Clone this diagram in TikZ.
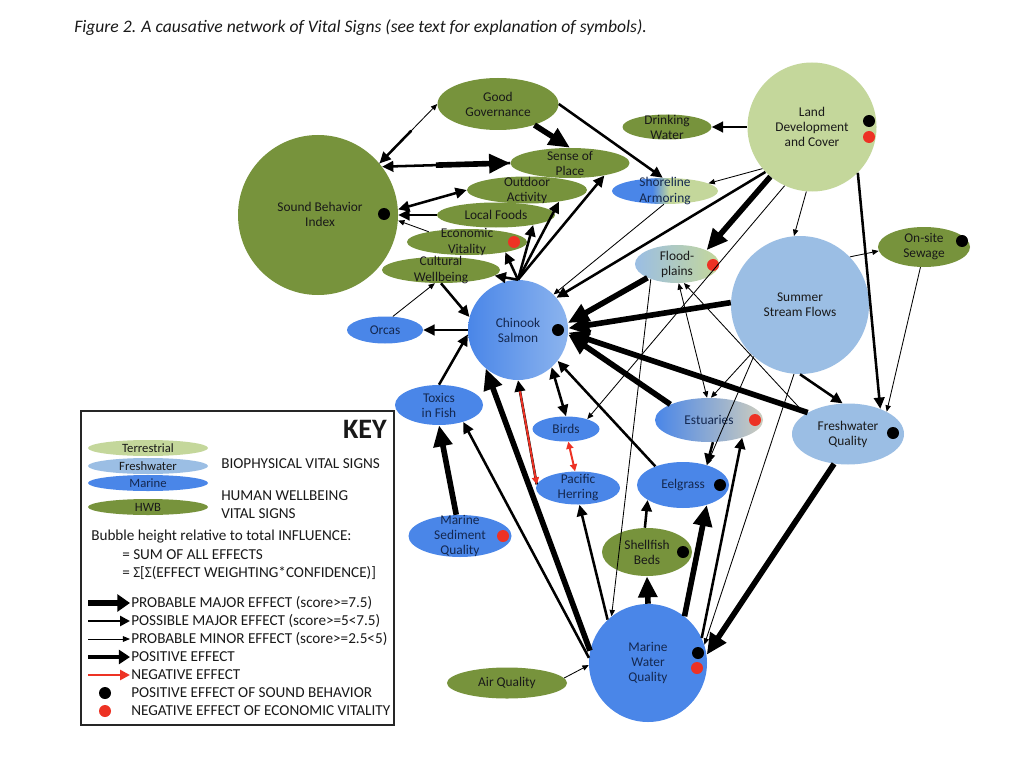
\documentclass[tikz,border=0pt]{standalone}
\usepackage{fontspec}
\setmainfont{Carlito}
\usetikzlibrary{shapes.geometric,arrows.meta,calc}
\definecolor{hwbcol}{RGB}{119,147,60}
\definecolor{terrcol}{RGB}{196,215,155}
\definecolor{freshcol}{RGB}{155,190,228}
\definecolor{marcol}{RGB}{74,134,232}
\definecolor{chinlight}{RGB}{140,180,238}
\definecolor{estgray}{RGB}{205,205,190}
\definecolor{dotred}{RGB}{237,50,36}
\definecolor{navy}{RGB}{20,40,80}
\pgfdeclarehorizontalshading{shoreshade}{100bp}{color(0bp)=(marcol); color(44bp)=(marcol); color(52bp)=(terrcol); color(100bp)=(terrcol)}
\newcommand\lbl{\fontsize{9.5}{10.7}\selectfont}
\newcommand\keyfont{\fontsize{10.8}{13}\selectfont}
\tikzset{
  Pmaj/.tip={Triangle[length=15pt,width=13pt]},
  Ppos/.tip={Triangle[length=8pt,width=7.5pt]},
  Pmin/.tip={Triangle[length=4.5pt,width=3.8pt]},
  Pred/.tip={Triangle[length=5pt,width=5pt]},
  major/.style={line width=4pt,-Pmaj},
  possible/.style={line width=1.8pt,-Ppos},
  minor/.style={line width=0.6pt,-Pmin},
  negative/.style={draw=dotred,line width=1.4pt,-Pred},
  bubble/.style 2 args={ellipse,inner sep=0pt,minimum width=#1*0.025cm,minimum height=#2*0.025cm},
  disc/.style={circle,inner sep=0pt,minimum size=#1*0.025cm},
  hwb/.style={fill=hwbcol},
  terr/.style={fill=terrcol},
  fresh/.style={fill=freshcol},
  mar/.style={fill=marcol},
  txt/.style={align=center,font=\lbl,inner sep=0pt,text=black!90},
  mtxt/.style={txt,text=navy},
  keyt/.style={font=\keyfont,inner sep=0pt,text=black!90,anchor=west},
  ktxt/.style={txt,font=\fontsize{9}{10}\selectfont},
  posdot/.style={circle,fill=black,inner sep=0pt,minimum size=0.3cm},
  negdot/.style={circle,fill=dotred,inner sep=0pt,minimum size=0.3cm},
}
\begin{document}
\begin{tikzpicture}[x=0.025cm,y=-0.025cm]
\fill[white] (0,0) rectangle (1024,768);
\useasboundingbox (0,0) rectangle (1024,768);
\node[anchor=west,inner sep=0pt,font=\fontsize{12.5}{14}\selectfont\itshape,text=black!90] (title) at (74,28)
  {Figure 2. A causative network of Vital Signs (see text for explanation of symbols).};

% bubbles
\node[hwb,bubble={121}{52}] (gg) at (498,104) {};
\node[hwb,disc=160] (sbi) at (318,215) {};
\node[hwb,bubble={119}{30}] (sop) at (570,163) {};
\node[hwb,bubble={120}{27}] (outd) at (527,190) {};
\node[hwb,bubble={118}{25}] (food) at (496,215) {};
\node[hwb,bubble={120}{26}] (econ) at (467,242) {};
\node[hwb,bubble={118}{26}] (cult) at (441,270) {};
\node[hwb,bubble={89}{25}] (drink) at (667,127) {};
\node[terr,disc=129] (land) at (812,127) {};
\node[bubble={106}{26},shade,shading=shoreshade] (shore) at (665,191) {};
\node[bubble={84}{38},left color=freshcol,right color=terrcol] (flood) at (677,264) {};
\node[fresh,disc=138] (ssf) at (800,305) {};
\node[hwb,bubble={92}{40}] (sew) at (924,247) {};
\node[disc=100,left color=marcol,right color=chinlight] (chin) at (518,330) {};
\node[mar,bubble={76}{27}] (orca) at (385,330) {};
\node[mar,bubble={88}{40}] (tox) at (439,405) {};
\node[mar,bubble={67}{25}] (bird) at (566,429) {};
\node[mar,bubble={84}{33}] (herr) at (578,488) {};
\node[bubble={108}{44},left color=marcol,right color=estgray] (est) at (709,420) {};
\node[mar,bubble={92}{46}] (eel) at (683,485) {};
\node[fresh,bubble={112}{61}] (fwq) at (848,434) {};
\node[mar,bubble={103}{42}] (sed) at (460,536) {};
\node[hwb,bubble={90}{48}] (shell) at (647,552) {};
\node[mar,disc=118] (mwq) at (648,663) {};
\node[hwb,bubble={120}{31}] (air) at (507,683) {};

% labels
\node[txt] (ggT) at (gg) {Good\\Governance};
\node[txt] (sbiT) at (320,214) {Sound Behavior\\Index};
\node[txt] (sopT) at (sop) {Sense of\\Place};
\node[txt] (outdT) at (outd) {Outdoor\\Activity};
\node[txt] (foodT) at (food) {Local Foods};
\node[txt] (econT) at (econ) {Economic\\Vitality};
\node[txt] (cultT) at (cult) {Cultural\\Wellbeing};
\node[txt] (drinkT) at (drink) {Drinking\\Water};
\node[txt] (landT) at (land) {Land\\Development\\and Cover};
\node[mtxt] (shoreT) at (shore) {Shoreline\\Armoring};
\node[txt] (floodT) at (flood) {Flood-\\plains};
\node[txt] (ssfT) at (ssf) {Summer\\Stream Flows};
\node[txt] (sewT) at (sew) {On-site\\Sewage};
\node[mtxt] (chinT) at (chin) {Chinook\\Salmon};
\node[mtxt] (orcaT) at (orca) {Orcas};
\node[mtxt] (toxT) at (tox) {Toxics\\in Fish};
\node[mtxt] (birdT) at (bird) {Birds};
\node[mtxt] (herrT) at (herr) {Pacific\\Herring};
\node[mtxt] (estT) at (est) {Estuaries};
\node[mtxt] (eelT) at (eel) {Eelgrass};
\node[txt] (fwqT) at (fwq) {Freshwater\\Quality};
\node[mtxt] (sedT) at (sed) {Marine\\Sediment\\Quality};
\node[txt] (shellT) at (shell) {Shellfish\\Beds};
\node[mtxt] (mwqT) at (mwq) {Marine\\Water\\Quality};
\node[txt] (airT) at (air) {Air Quality};

% dots
\node[posdot] (sbiP) at (384,214) {};
\node[negdot] (econN) at (514,242) {};
\node[posdot] (landP) at (869,121) {};
\node[negdot] (landN) at (869,137) {};
\node[negdot] (floodN) at (713,265) {};
\node[posdot] (sewP) at (962,241) {};
\node[posdot] (chinP) at (558,330) {};
\node[negdot] (estN) at (755,420) {};
\node[posdot] (eelP) at (720,485) {};
\node[posdot] (fwqP) at (893,433) {};
\node[negdot] (sedN) at (503,536) {};
\node[posdot] (shellP) at (683,552) {};
\node[posdot] (mwqP) at (698,653) {};
\node[negdot] (mwqN) at (697,668) {};

% human wellbeing links
\draw[minor] (sbi.40) -- (gg.west);
\draw[possible] ($(gg.west)!0.45!(sbi.40)$) -- (sbi.40);
\draw[possible] (sop.west) -- (sbi.37);
\draw[major] ($(sbi.37)!0.42!(sop.west)$) -- (sop.west);
\draw[major] (gg.-30) -- (sop.north);
\draw[possible] (gg.east) -- (shore.100);
\draw[possible,Ppos-Ppos] (sbi.4) -- (outd.west);
\draw[possible] (food.west) -- (sbi.0);
\draw[minor] (econ.165) -- (sbi.-4);
\draw[minor] (orca.60) -- (cult.245);

% chinook salmon
\draw[possible] (chin.north) -- (cult.-6);
\draw[possible] (chin.north) -- (econ.-15);
\draw[possible] (chin.north) -- (food.-15);
\draw[possible] (chin.north) -- (outd.-20);
\draw[possible] (chin.north) -- (sop.-20);
\draw[possible] (cult.south) -- (chin.165);
\draw[possible] (tox.north) -- (chin.185);
\draw[possible] (chin.180) -- (orca.east);
\draw[major] (sed.100) -- (tox.south);
\draw[possible] (mwq.175) -- (tox.-35);
\draw[major] (mwq.168) -- (chin.230);
\draw[possible] (herr.175) -- (chin.south);
\draw[negative,Pred-,shorten >=8pt] (herr.175) -- (chin.south);
\draw[negative,Pred-Pred] (bird.-80) -- (herr.100);
\draw[possible,Ppos-Ppos] (chin.-48) -- (bird.north);
\draw[possible] (eel.146) -- (chin.-38);
\draw[major] (flood.205) -- (chin.8);
\draw[major] (ssf.178) -- (chin.2);
\draw[major] (est.158) -- (chin.-5);
\draw[major] (fwq.152) -- (chin.-3);

% land development
\draw[possible] (land.180) -- (drink.east);
\draw[minor] (land.220) -- (shore.10);
\draw[major] (land.230) -- (flood.25);
\draw[possible] (land.224) -- (chin.40);
\draw[minor] (shore.-95) -- (chin.45);
\draw[minor] (land.245) -- (bird.25);
\draw[minor] (land.265) -- (ssf.95);
\draw[possible] (land.-45) -- (fwq.38);

% summer stream flows
\draw[minor] (ssf.44) -- (sew.185);
\draw[minor] (sew.-100) -- (fwq.30);
\draw[possible] (ssf.-90) -- (fwq.100);
\draw[minor] (ssf.225) -- (est.85);
\draw[minor] (ssf.228) -- (eel.40);
\draw[minor] (ssf.-95) -- (mwq.18);
\draw[minor,Pmin-Pmin] (flood.-85) -- (est.95);
\draw[minor] (fwq.155) -- (flood.-70);
\draw[minor] (flood.210) -- (mwq.128);

% marine water quality
\draw[possible] (est.-80) -- (eel.40);
\draw[possible] (mwq.25) -- (est.-28);
\draw[major] (mwq.52) -- (eel.-40);
\draw[major] (fwq.-115) -- (mwq.8);
\draw[major] (mwq.north) -- (shell.south);
\draw[possible] (shell.95) -- (eel.203);
\draw[possible] (mwq.133) -- (herr.-85);
\draw[minor] (air.5) -- (mwq.182);

% key
\draw[line width=0.8pt,black!85] (81,411) rectangle (394,725);
\node[keyt,anchor=east,font=\fontsize{20}{22}\selectfont\bfseries] (kKey) at (387,429) {KEY};
\node[terr,bubble={120}{16}] (kTerr) at (148,448) {};
\node[fresh,bubble={120}{16}] (kFresh) at (148,466) {};
\node[mar,bubble={120}{16}] (kMar) at (148,483) {};
\node[hwb,bubble={120}{16}] (kHwb) at (148,507) {};
\node[ktxt] (kTerrT) at (kTerr) {Terrestrial};
\node[ktxt] (kFreshT) at (kFresh) {Freshwater};
\node[ktxt,text=navy] (kMarT) at (kMar) {Marine};
\node[ktxt] (kHwbT) at (kHwb) {HWB};
\node[keyt] (kBio) at (221,464) {BIOPHYSICAL VITAL SIGNS};
\node[keyt] (kHum) at (221,496) {HUMAN WELLBEING};
\node[keyt] (kVit) at (221,514) {VITAL SIGNS};
\node[keyt] (kBub) at (91,537) {Bubble height relative to total INFLUENCE:};
\node[keyt] (kSum) at (122,555) {= SUM OF ALL EFFECTS};
\node[keyt] (kSig) at (122,573) {= Σ[Σ(EFFECT WEIGHTING*CONFIDENCE)]};
\draw[line width=4.5pt,-{Triangle[length=9pt,width=12pt]}] (88,603) -- (130,603);
\draw[line width=2pt,-{Triangle[length=7pt,width=7pt]}] (88,621) -- (130,621);
\draw[line width=0.6pt,-{Triangle[length=5pt,width=4pt]}] (88,639) -- (130,639);
\draw[line width=3.5pt,-{Triangle[length=8pt,width=10pt]}] (88,657) -- (130,657);
\draw[draw=dotred,line width=2pt,-{Triangle[length=7pt,width=7pt]}] (88,675) -- (130,675);
\node[keyt] (kMaj) at (131,603) {PROBABLE MAJOR EFFECT (score>=7.5)};
\node[keyt] (kPos) at (131,621) {POSSIBLE MAJOR EFFECT (score>=5<7.5)};
\node[keyt] (kMin) at (131,639) {PROBABLE MINOR EFFECT (score>=2.5<5)};
\node[keyt] (kPlus) at (131,657) {POSITIVE EFFECT};
\node[keyt] (kNeg) at (131,675) {NEGATIVE EFFECT};
\node[posdot] (kDotP) at (105,693) {};
\node[negdot] (kDotN) at (105,711) {};
\node[keyt] (kSB) at (131,693) {POSITIVE EFFECT OF SOUND BEHAVIOR};
\node[keyt] (kEV) at (131,711) {NEGATIVE EFFECT OF ECONOMIC VITALITY};
\end{tikzpicture}
\end{document}
